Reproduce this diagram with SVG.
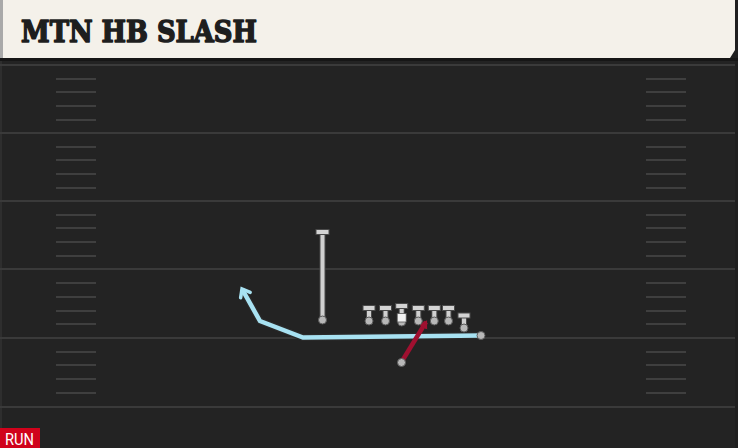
<svg xmlns="http://www.w3.org/2000/svg" width="738" height="448" viewBox="0 0 738 448">
<defs>
<style>
.yard{stroke:#3a3a3a;stroke-width:2}
.hash{stroke:#3f3f3f;stroke-width:2}
.ol{stroke:#d0d0d0;stroke-width:4;fill:none;stroke-linecap:butt}
.olo{stroke:#4a4a4a;stroke-width:6;fill:none}
.dot{fill:#b8b8b8;stroke:#5a5a5a;stroke-width:1}
.bar{fill:#d4d4d4;stroke:#4a4a4a;stroke-width:1}
</style>
<marker id="ab" markerWidth="16" markerHeight="16" refX="11" refY="8" orient="auto" markerUnits="userSpaceOnUse">
<path d="M4,2.5 L11,8 L4,13.5" fill="none" stroke="#a8e2f2" stroke-width="3.5" stroke-linecap="round"/>
</marker>
<marker id="ar" markerWidth="12" markerHeight="12" refX="6" refY="6" orient="auto" markerUnits="userSpaceOnUse">
<path d="M0,1 L8,6 L0,11 Z" fill="#a01030"/>
</marker>
</defs>
<rect width="738" height="448" fill="#1f1f1f"/>
<rect x="0" y="60" width="735" height="388" fill="#232323"/>
<rect x="0" y="60" width="2" height="388" fill="#2e2e2e"/>
<g id="header">
<path d="M0,0 H735 V50 L730,58 H0 Z" fill="#f4f1ea"/>
<rect x="0" y="0" width="3" height="58" fill="#a9a9a9"/>
<rect x="0" y="58" width="738" height="3" fill="#161616"/>
<text x="21" y="42" font-family="'DejaVu Serif',serif" font-weight="bold" font-size="30" fill="#1e1e1e" stroke="#1e1e1e" stroke-width="1.6" stroke-linejoin="round" textLength="236" lengthAdjust="spacingAndGlyphs">MTN HB SLASH</text>
</g>
<g id="field">
<line class="yard" x1="0" y1="65" x2="735" y2="65"/>
<line class="yard" x1="0" y1="133" x2="735" y2="133"/>
<line class="yard" x1="0" y1="201" x2="735" y2="201"/>
<line class="yard" x1="0" y1="269" x2="735" y2="269"/>
<line class="yard" x1="0" y1="338" x2="735" y2="338"/>
<line class="yard" x1="0" y1="407" x2="735" y2="407"/>
<g class="hash">
<path d="M56,79H96M56,92H96M56,106H96M56,120H96M56,147H96M56,160H96M56,174H96M56,188H96M56,215H96M56,228H96M56,242H96M56,256H96M56,283H96M56,297H96M56,311H96M56,324H96M56,352H96M56,365H96M56,379H96M56,393H96"/>
<path d="M646,79H686M646,92H686M646,106H686M646,120H686M646,147H686M646,160H686M646,174H686M646,188H686M646,215H686M646,228H686M646,242H686M646,256H686M646,283H686M646,297H686M646,311H686M646,324H686M646,352H686M646,365H686M646,379H686M646,393H686"/>
</g>
</g>
<g id="connectors">
<path d="M481,335.5 L303,337.5 L260,321 L242,289" fill="none" stroke="#2a2a2a" stroke-width="7" stroke-linejoin="miter"/>
<path d="M481,335.5 L303,337.5 L260,321 L242,289" fill="none" stroke="#a8e2f2" stroke-width="4.5" marker-end="url(#ab)"/>
<line x1="322.5" y1="320" x2="322.5" y2="233" class="olo"/>
<line x1="322.5" y1="320" x2="322.5" y2="233" class="ol"/>
<line x1="401.5" y1="362" x2="426" y2="322" stroke="#a01030" stroke-width="4.5" marker-end="url(#ar)"/>
</g>
<g id="te-block">
<rect x="316" y="229.5" width="13" height="5" class="bar"/>
<circle cx="322.5" cy="320" r="4" class="dot"/>
</g>
<g id="lt"><line x1="369" y1="321" x2="369" y2="309" class="olo"/><line x1="369" y1="321" x2="369" y2="309" class="ol"/><rect x="363" y="305.5" width="12" height="5" class="bar"/><circle cx="369" cy="321" r="4" class="dot"/></g>
<g id="lg"><line x1="385.5" y1="321" x2="385.5" y2="309" class="olo"/><line x1="385.5" y1="321" x2="385.5" y2="309" class="ol"/><rect x="379.5" y="305.5" width="12" height="5" class="bar"/><circle cx="385.5" cy="321" r="4" class="dot"/></g>
<g id="c"><line x1="401.7" y1="316" x2="401.7" y2="307" class="olo"/><line x1="401.7" y1="316" x2="401.7" y2="307" class="ol"/><rect x="395.7" y="303.5" width="12" height="5" class="bar"/><circle cx="401.7" cy="322" r="4" class="dot"/><rect x="397.2" y="313.5" width="9" height="8.5" fill="#f2f2f2" stroke="#555" stroke-width="0.8"/></g>
<g id="rg"><line x1="418.3" y1="321" x2="418.3" y2="309" class="olo"/><line x1="418.3" y1="321" x2="418.3" y2="309" class="ol"/><rect x="412.3" y="305.5" width="12" height="5" class="bar"/><circle cx="418.3" cy="321" r="4" class="dot"/></g>
<g id="rt"><line x1="434.3" y1="321" x2="434.3" y2="309" class="olo"/><line x1="434.3" y1="321" x2="434.3" y2="309" class="ol"/><rect x="428.3" y="305.5" width="12" height="5" class="bar"/><circle cx="434.3" cy="321" r="4" class="dot"/></g>
<g id="te"><line x1="448.5" y1="321" x2="448.5" y2="309" class="olo"/><line x1="448.5" y1="321" x2="448.5" y2="309" class="ol"/><rect x="442.5" y="305.5" width="12" height="5" class="bar"/><circle cx="448.5" cy="321" r="4" class="dot"/></g>
<g id="wing"><line x1="464" y1="328" x2="464" y2="316" class="olo"/><line x1="464" y1="328" x2="464" y2="316" class="ol"/><rect x="458" y="313" width="12" height="5" class="bar"/><circle cx="464" cy="328" r="4" class="dot"/></g>
<g id="rb"><circle cx="481" cy="335.5" r="4" class="dot"/></g>
<g id="pull"><circle cx="401.5" cy="362.5" r="4" class="dot"/></g>
<g id="badge">
<rect x="0" y="428" width="40" height="20" fill="#d0021b"/>
<text x="5" y="445" font-family="Roboto,sans-serif" font-size="17" fill="#ffffff" textLength="29" lengthAdjust="spacingAndGlyphs">RUN</text>
</g>
</svg>
